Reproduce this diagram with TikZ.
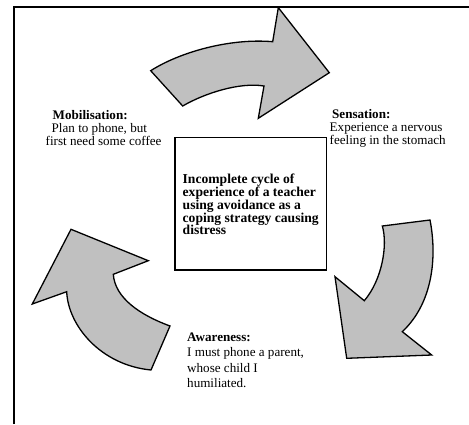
\documentclass[tikz,border=0pt]{standalone}
\usepackage{fontspec}
\setmainfont{Liberation Serif}
\definecolor{arrowgray}{HTML}{C0C0C0}
\begin{document}
\begin{tikzpicture}[x=1pt,y=-1pt,
  cyc/.style={fill=arrowgray, draw=black, line width=1.3pt, line join=miter},
  lbl/.style={inner sep=0pt, anchor=base west, font=\fontsize{13.1}{13}\selectfont},
  coretext/.style={inner sep=0pt, anchor=base west, font=\fontsize{13.6}{12.9}\selectfont\bfseries},
  corebox/.style={draw=black, line width=1.6pt, inner sep=0pt}]
\useasboundingbox (0,0) rectangle (469,424);
\fill[white] (0,0) rectangle (469,424);
% frame
\draw[line width=1.8pt] (14,424) -- (14,7) -- (469,7);
% top arrow
\draw[cyc] (150.7,70.7) .. controls (180,52) and (230,38) .. (272.7,41.7)
  -- (278.3,7.6) -- (329.3,72.7) -- (258.3,118.3) -- (264,86)
  .. controls (240,82) and (205,93) .. (182.7,106) -- cycle;
% right arrow
\draw[cyc] (430,220) .. controls (436,250) and (436,300) .. (402.3,331.7)
  -- (431.7,355) -- (346.7,358.3) -- (335,276.7) -- (364.3,300.7)
  .. controls (382,280) and (388,245) .. (382.3,226) -- cycle;
% left arrow
\draw[cyc] (151,370) .. controls (100,365) and (68,325) .. (66.7,291.7)
  -- (32.3,304) -- (71,229.3) -- (148.3,260.7) -- (113.3,274.3)
  .. controls (115,298) and (140,315) .. (170,326) -- cycle;
% centre box
\node[corebox, minimum width=151.6pt, minimum height=132.7pt] (core) at (250.5,203.65) {};
\node[coretext] (coretxt) at (182.5,183.3) {\vtop{\baselineskip=12.9pt
  \hbox{Incomplete cycle of}\hbox{experience of a teacher}\hbox{using avoidance as a}\hbox{coping strategy causing}\hbox{distress}}};
% labels
\node[lbl] (mob) at (45.5,119) {\vtop{\baselineskip=13pt
  \hbox{\hspace{7pt}\textbf{Mobilisation:}}\hbox{\hspace{6pt}Plan to phone, but}\hbox{first need some coffee}}};
\node[lbl] (sens) at (329.5,118.3) {\vtop{\baselineskip=13.3pt
  \hbox{\hspace{2.5pt}\textbf{Sensation:}}\hbox{Experience a nervous}\hbox{feeling in the stomach}}};
\node[lbl] (aware) at (187,341) {\vtop{\baselineskip=15.5pt
  \hbox{\textbf{Awareness:}}\hbox{I must phone a parent,}\hbox{whose child I}\hbox{humiliated.}}};
\end{tikzpicture}
\end{document}
